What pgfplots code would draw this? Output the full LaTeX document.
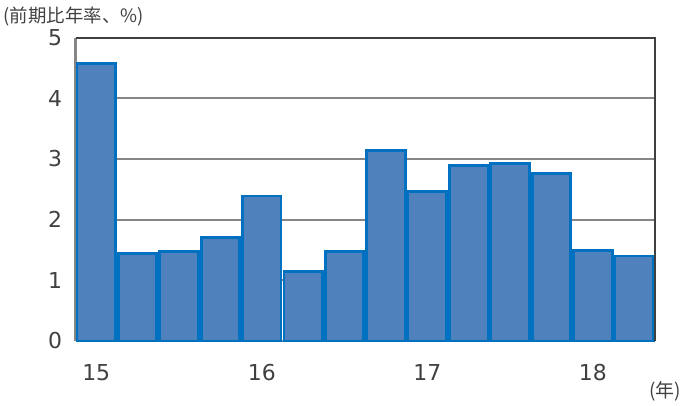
\documentclass[border=0pt]{standalone}
\usepackage{pgfplots}
\pgfplotsset{compat=1.18}
\usepackage{fontspec}
\setmainfont{DejaVu Sans}
\newfontfamily\cjk{Noto Sans CJK JP}
\definecolor{barfill}{HTML}{4F81BD}
\definecolor{baredge}{HTML}{0070C0}
\definecolor{gridgray}{HTML}{868686}
\definecolor{darkframe}{HTML}{404040}
\definecolor{txt}{HTML}{404040}
\begin{document}
\begin{tikzpicture}[x=1bp,y=1bp]
\useasboundingbox (-75.5bp,-65bp) rectangle (609.5bp,341bp);
\begin{axis}[
  scale only axis,
  width=579.5bp, height=303.3bp,
  at={(0,0)}, anchor=south west,
  xmin=-0.5, xmax=13.5,
  ymin=0, ymax=5,
  ytick={0,1,2,3,4,5},
  xtick={0,4,8,12},
  xticklabels={15,16,17,18},
  extra x ticks={3.5,7.5,11.5},
  extra x tick labels={},
  extra x tick style={major tick length=7bp, tick style={gridgray, line width=1.5bp}},
  major x tick style={draw=none},
  major tick length=7bp,
  tick align=inside,
  ytick style={gridgray, line width=1.5bp},
  ymajorgrids,
  major grid style={gridgray, line width=1.8bp},
  axis line style={gridgray, line width=2bp},
  axis x line*=bottom,
  axis y line*=left,
  /pgf/number format/assume math mode=true,
  tick label style={font=\fontsize{22}{26}\selectfont, text=txt},
  yticklabel style={xshift=-10bp},
  xticklabel style={yshift=-20bp},
  clip=false,
]
\addplot[ybar, bar width=0.93, fill=barfill, draw=baredge, line width=2.8bp, bar shift=0pt]
coordinates {
(0,4.57) (1,1.44) (2,1.47) (3,1.70) (4,2.39) (5,1.14) (6,1.47)
(7,3.14) (8,2.46) (9,2.89) (10,2.92) (11,2.76) (12,1.49) (13,1.40)
};
\draw[darkframe, line width=2.2bp] (axis cs:-0.5,5) -- (axis cs:13.5,5) -- (axis cs:13.5,0);
\end{axis}
\node[anchor=north west, inner sep=0pt, text=txt, font=\cjk\fontsize{18.5}{22}\selectfont] at (-72bp,334bp) {(前期比年率、\%)};
\node[anchor=south east, inner sep=0pt, text=txt, font=\cjk\fontsize{19}{22}\selectfont] at (606bp,-60bp) {(年)};
\end{tikzpicture}
\end{document}
